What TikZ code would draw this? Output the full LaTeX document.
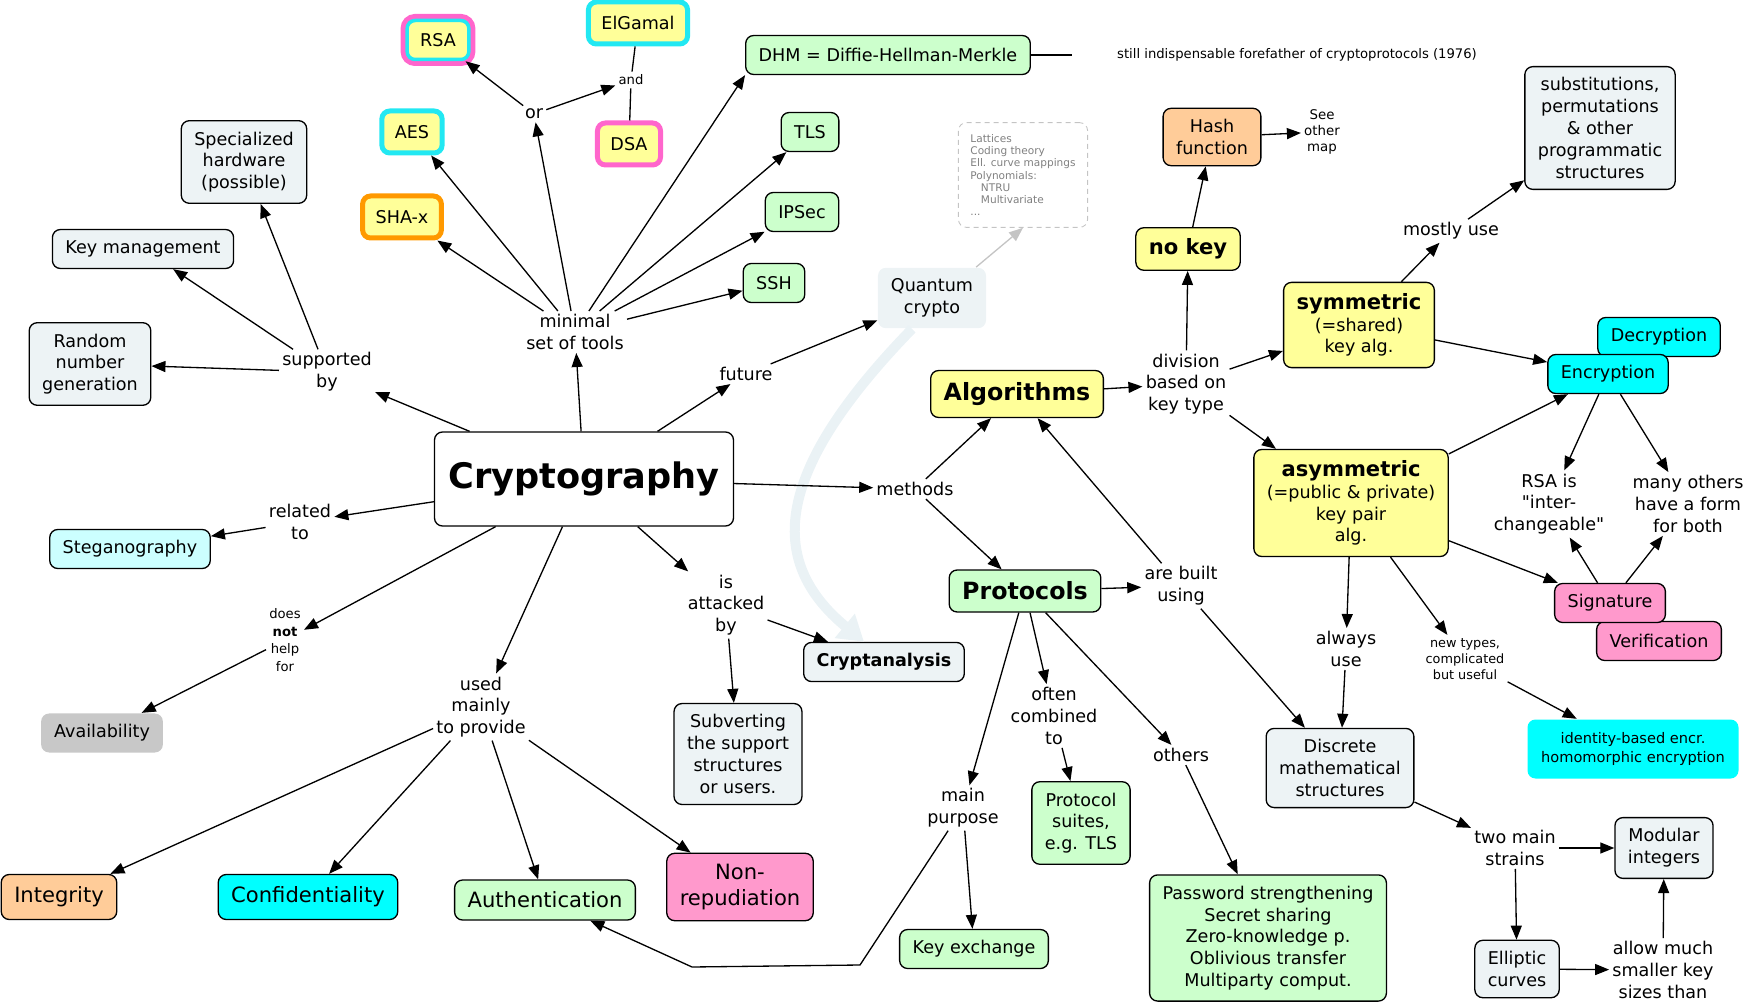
\documentclass[tikz,border=0pt]{standalone}
\usepackage{fontspec}
\setmainfont{DejaVu Sans}[Ligatures=TeXOff]
\usetikzlibrary{arrows.meta}

\definecolor{boxgray}{HTML}{EDF3F5}
\definecolor{ylw}{HTML}{FFFF99}
\definecolor{grn}{HTML}{CCFFCC}
\definecolor{cyn}{HTML}{00FFFF}
\definecolor{lcyn}{HTML}{CCFFFF}
\definecolor{orng}{HTML}{FFCC99}
\definecolor{pnk}{HTML}{FF99CC}
\definecolor{pnkline}{HTML}{FF66CC}
\definecolor{cynline}{HTML}{22E8F2}
\definecolor{orgline}{HTML}{FF9900}
\definecolor{avgray}{HTML}{C8C8C8}
\definecolor{latgray}{HTML}{C4C4C4}
\definecolor{qline}{HTML}{EAF2F5}

\begin{document}
\begin{tikzpicture}[x=0.2mm, y=-0.2mm, line width=0.75pt,
		>={Triangle[length=2.8mm,width=2.2mm]},
		lbl/.style={align=center, inner sep=1.5pt, font=\fontsize{10}{12.4}\selectfont},
		smalllbl/.style={align=center, inner sep=1.5pt, font=\fontsize{7.5}{9.4}\selectfont},
		box/.style={draw, rounded corners=1.6mm, align=center, inner xsep=2.6mm, inner ysep=2.2mm,
			minimum height=7.8mm, fill=boxgray, font=\fontsize{10}{12.4}\selectfont},
		ylwbox/.style={box, fill=ylw},
		grnbox/.style={box, fill=grn},
		cynbox/.style={box, fill=cyn},
		pnkbox/.style={box, fill=pnk},
		bigtxt/.style={font=\fontsize{12}{14.6}\selectfont},
		rim/.style={ylwbox, draw=#1, line width=1mm, minimum height=8.4mm},
		tworim/.style={ylwbox, draw=cynline, line width=0.7mm, preaction={draw=pnkline, line width=2.6mm}}]

		\useasboundingbox (0,0) rectangle (1751,1006); % Fix the page size

		% Draw the centre and the left half
		\node[box, fill=white, font=\fontsize{20}{24}\selectfont\bfseries, minimum width=59.8mm, minimum height=18.8mm] (crypto) at (584,479) {Cryptography};
		\node[lbl] (minimal) at (575,332) {minimal\\set of tools};
		\node[lbl] (orl) at (534,114) {or};
		\node[smalllbl] (andl) at (631,80) {and};
		\node[tworim] (rsa) at (438,40) {RSA};
		\node[rim=cynline] (elgamal) at (638,23) {ElGamal};
		\node[rim=pnkline] (dsa) at (629,144) {DSA};
		\node[rim=cynline] (aes) at (412,132) {AES};
		\node[rim=orgline] (sha) at (402,217) {SHA-x};
		\node[grnbox] (dhm) at (888,55) {DHM = Diffie-Hellman-Merkle};
		\node[smalllbl] (still) at (1297,55) {still indispensable forefather of cryptoprotocols (1976)};
		\coordinate (stillend) at (1072,55);
		\node[grnbox] (tls) at (810,132) {TLS};
		\node[grnbox] (ipsec) at (802,212) {IPSec};
		\node[grnbox] (ssh) at (774,283) {SSH};
		\node[lbl] (supp) at (327,372) {supported\\by};
		\node[box] (hw) at (244,162) {Specialized\\hardware\\(possible)};
		\node[box] (keymgmt) at (143,249) {Key management};
		\node[box] (rng) at (90,364) {Random\\number\\generation};
		\node[lbl] (rel) at (300,522) {related\\to};
		\node[box, fill=lcyn] (steg) at (130,549) {Steganography};
		\node[smalllbl, font=\fontsize{7.5}{10}\selectfont] (notl) at (285,640) {does\\\textbf{not}\\help\\for};
		\node[box, fill=avgray, draw=none] (avail) at (102,733) {Availability};
		\node[lbl] (used) at (481,707) {used\\mainly\\to provide};
		\node[box, bigtxt, fill=orng, minimum height=9mm] (integ) at (59,897) {Integrity};
		\node[cynbox, bigtxt, minimum height=9mm] (conf) at (308,897) {Confidentiality};
		\node[grnbox, bigtxt, minimum height=8mm] (auth) at (545,900) {Authentication};
		\node[pnkbox, bigtxt] (nonrep) at (740,887) {Non-\\repudiation};
		\node[lbl] (attacked) at (726,605) {is\\attacked\\by};
		\node[box] (subv) at (738,754) {Subverting\\the support\\structures\\or users.};
		\node[box, font=\fontsize{10}{12.4}\selectfont\bfseries] (cana) at (884,662) {Cryptanalysis};
		\node[lbl] (future) at (746,374) {future};
		\node[box, draw=none] (quantum) at (932,298) {Quantum\\crypto};
		\node[draw=latgray, dashed, dash pattern=on 1mm off 0.8mm, line width=0.5pt, rounded corners=1.6mm, align=left, inner sep=2.4mm,
			text=gray, font=\fontsize{6}{6.9}\selectfont] (latt) at (1023,175)
			{Lattices\\Coding theory\\Ell. curve mappings\\Polynomials:\\\hspace*{1em}NTRU\\\hspace*{1em}Multivariate\\...};

		% Draw the right half
		\node[lbl] (methods) at (915,489) {methods};
		\node[ylwbox, font=\fontsize{13.5}{16}\selectfont\bfseries, minimum height=9.4mm] (algo) at (1017,394) {Algorithms};
		\node[grnbox, font=\fontsize{13.5}{16}\selectfont\bfseries, minimum height=8.4mm] (proto) at (1025,591) {Protocols};
		\node[lbl] (division) at (1186,384) {division\\based on\\key type};
		\node[ylwbox, font=\fontsize{12}{14}\selectfont\bfseries, minimum height=8.2mm] (nokey) at (1188,249) {no key};
		\node[box, fill=orng] (hash) at (1212,137) {Hash\\function};
		\node[smalllbl, font=\fontsize{7.6}{9.2}\selectfont] (seemap) at (1322,132) {See\\other\\map};
		\node[box] (subst) at (1600,128) {substitutions,\\permutations\\\& other\\programmatic\\structures};
		\node[lbl] (mostly) at (1451,231) {mostly use};
		\node[ylwbox] (sym) at (1359,325) {{\fontsize{12}{14}\selectfont\bfseries symmetric}\\(=shared)\\key alg.};
		\node[cynbox] (decr) at (1659,337) {Decryption};
		\node[cynbox] (encr) at (1608,374) {Encryption};
		\node[ylwbox] (asym) at (1351,503) {{\fontsize{12}{14}\selectfont\bfseries asymmetric}\\(=public \& private)\\key pair\\alg.};
		\node[lbl] (rsais) at (1549,504) {RSA is\\"inter-\\changeable"};
		\node[lbl] (many) at (1688,504) {many others\\have a form\\for both};
		\node[pnkbox] (verif) at (1659,641) {Verification};
		\node[pnkbox] (sig) at (1610,603) {Signature};
		\node[lbl] (built) at (1181,586) {are built\\using};
		\node[lbl] (always) at (1346,649) {always\\use};
		\node[smalllbl, font=\fontsize{7.3}{9.2}\selectfont] (newtypes) at (1465,659) {new types,\\complicated\\but useful};
		\node[cynbox, draw=none, font=\fontsize{8.3}{11}\selectfont, minimum width=42.2mm, minimum height=11.8mm] (ident) at (1633,749) {identity-based encr.\\homomorphic encryption};
		\node[box] (discrete) at (1340,768) {Discrete\\mathematical\\structures};
		\node[lbl] (often) at (1054,716) {often\\combined\\to};
		\node[lbl] (others) at (1181,755) {others};
		\node[lbl] (mainp) at (963,808) {main\\purpose};
		\node[grnbox] (suites) at (1081,823) {Protocol\\suites,\\e.g. TLS};
		\node[grnbox] (keyex) at (974,949) {Key exchange};
		\node[grnbox] (pwd) at (1268,938) {Password strengthening\\Secret sharing\\Zero-knowledge p.\\Oblivious transfer\\Multiparty comput.};
		\node[lbl] (strains) at (1515,848) {two main\\strains};
		\node[box] (modular) at (1664,848) {Modular\\integers};
		\node[box] (elliptic) at (1517,969) {Elliptic\\curves};
		\node[lbl] (allow) at (1663,970) {allow much\\smaller key\\sizes than};
		\coordinate (bendA) at (860,965);
		\coordinate (bendB) at (692,967);

		\draw[draw=qline, line width=2mm, -{Triangle[length=5mm,width=6mm]}] ([xshift=-4mm]quantum.south) .. controls (775,470) and (765,560) .. ([xshift=-4mm]cana.north); % Draw the quantum arrow

		\draw[->] (crypto) -- (minimal); % Draw the tools arrow
		\draw[->] (crypto) -- (supp);
		\draw[->] (crypto) -- (future);
		\draw[->] (crypto) -- (methods);
		\draw[->] (crypto) -- (rel);
		\draw[->] (crypto) -- (notl);
		\draw[->] (crypto) -- (used);
		\draw[->] (crypto) -- (attacked);
		\draw[->] (minimal) -- (orl); % Draw the or/and branch
		\draw[->] (orl) -- (rsa);
		\draw[->] (orl) -- (andl);
		\draw (andl) -- (elgamal);
		\draw (andl) -- (dsa);
		\draw[->] (minimal) -- (aes); % Draw the tool arrows
		\draw[->] (minimal) -- (sha);
		\draw[->] (minimal) -- (dhm.south west);
		\draw[->] (minimal) -- (tls);
		\draw[->] (minimal) -- (ipsec);
		\draw[->] (minimal) -- (ssh);
		\draw (dhm) -- (stillend); % Draw the DHM remark line
		\draw[->] (supp) -- (rng); % Draw the support arrows
		\draw[->] (supp) -- (keymgmt);
		\draw[->] (supp) -- (hw);
		\draw[->] (rel) -- (steg);
		\draw[->] (notl) -- (avail);
		\draw[->] (used) -- (integ); % Draw the goal arrows
		\draw[->] (used) -- (conf);
		\draw[->] (used) -- (auth);
		\draw[->] (used) -- (nonrep);
		\draw[->] (attacked) -- (cana); % Draw the attack arrows
		\draw[->] (attacked) -- (subv);
		\draw[->] (future) -- (quantum);
		\draw[->, draw=latgray] (quantum.35) -- (latt.south);
		\draw[->] (methods) -- (algo); % Draw the method arrows
		\draw[->] (methods) -- (proto);
		\draw[->] (algo) -- (division);
		\draw[->] (division) -- (nokey);
		\draw[->] (division) -- (sym);
		\draw[->] (division) -- (asym);
		\draw[->] (nokey) -- (hash);
		\draw[->] (hash) -- (seemap);
		\draw[->] (sym) -- (mostly);
		\draw[->] (mostly) -- (subst);
		\draw[->] (sym) -- (encr);
		\draw[->] (asym) -- (encr);
		\draw[->] (asym) -- (sig);
		\draw[->] (encr) -- (rsais);
		\draw[->] (encr) -- (many);
		\draw[->] (sig) -- (rsais);
		\draw[->] (sig) -- (many);
		\draw[->] (asym) -- (always);
		\draw[->] (always) -- (discrete);
		\draw[->] (asym) -- (newtypes);
		\draw[->] (newtypes) -- (ident);
		\draw[->] (proto) -- (built); % Draw the protocol arrows
		\draw[->] (built) -- (algo);
		\draw[->] (built) -- (discrete);
		\draw[->] (proto) -- (often);
		\draw[->] (often) -- (suites);
		\draw[->] (proto) -- (others);
		\draw[->] (others) -- (pwd);
		\draw[->] (proto) -- (mainp);
		\draw[->] (mainp) -- (keyex);
		\draw[->] (mainp) -- (bendA) -- (bendB) -- (auth); % Draw the long arrow to authentication
		\draw[->] (discrete) -- (strains); % Draw the strain arrows
		\draw[->] (strains) -- (modular);
		\draw[->] (strains) -- (elliptic);
		\draw[->] (elliptic) -- (allow);
		\draw[->] (allow) -- (modular);
	\end{tikzpicture}
\end{document}
